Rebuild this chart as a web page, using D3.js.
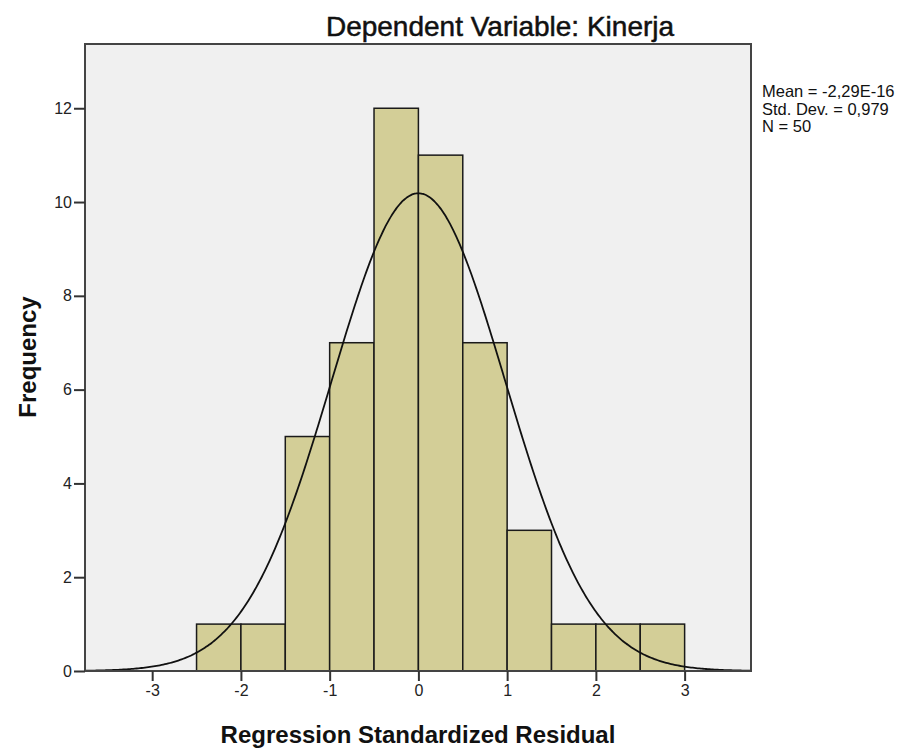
<!DOCTYPE html>
<html><head><meta charset="utf-8">
<script src="https://cdn.jsdelivr.net/npm/d3@7/dist/d3.min.js"></script>
<style>body{margin:0;background:#fff;} text{font-family:"Liberation Sans",Arial,sans-serif;}</style>
</head><body>
<svg id="c" width="907" height="749"></svg>
<script>
const binStarts = [-2.5,-2.0,-1.5,-1.0,-0.5,0.0,0.5,1.0,1.5,2.0,2.5];
const binWidth = 0.5;
const counts = [1,1,5,7,12,11,7,3,1,1,1];
const xTicks = [-3,-2,-1,0,1,2,3];
const yTicks = [0,2,4,6,8,10,12];
const stats = {mean:-2.29e-16, sd:0.979, n:50};
const legendLines = ["Mean = -2,29E-16","Std. Dev. = 0,979","N = 50"];
const titleText = "Dependent Variable: Kinerja";

const svg = d3.select("#c");
const L=85, R=751, T=44, B=671;
const x = d3.scaleLinear().domain([-3.757,3.748]).range([L,R]);
const y = d3.scaleLinear().domain([0,13.37]).range([B,T]);

svg.append("rect").attr("x",L).attr("y",T).attr("width",R-L).attr("height",B-T).attr("fill","#f0f0f0");

svg.append("g").selectAll("rect").data(counts).join("rect")
  .attr("x",(d,i)=>x(binStarts[i])).attr("width",(d,i)=>x(binStarts[i]+binWidth)-x(binStarts[i]))
  .attr("y",d=>y(d)).attr("height",d=>y(0)-y(d))
  .attr("fill","#d3ce97").attr("stroke","#1a1a1a").attr("stroke-width",1.5);

// normal curve from stats
const pdf = v => stats.n*binWidth/(stats.sd*Math.sqrt(2*Math.PI))*Math.exp(-0.5*((v-stats.mean)/stats.sd)**2);
const xs = d3.range(0,401).map(i=>-3.757+i*(3.748+3.757)/400);
svg.append("path").datum(xs).attr("fill","none").attr("stroke","#111").attr("stroke-width",1.8)
  .attr("d",d3.line().x(v=>x(v)).y(v=>y(pdf(v))).curve(d3.curveBasis));

// frame
svg.append("rect").attr("x",L).attr("y",T).attr("width",R-L).attr("height",B-T)
  .attr("fill","none").attr("stroke","#444").attr("stroke-width",2);

const yAxis = svg.append("g").attr("transform",`translate(${L},0)`)
  .call(d3.axisLeft(y).tickValues(yTicks).tickSize(11).tickFormat(d=>String(d)));
const xAxis = svg.append("g").attr("transform",`translate(0,${B})`)
  .call(d3.axisBottom(x).tickValues(xTicks).tickSize(10).tickFormat(d=>String(d)));
[yAxis,xAxis].forEach(g=>{
  g.select(".domain").remove();
  g.selectAll(".tick line").attr("stroke","#333").attr("stroke-width",2);
  g.selectAll(".tick text").attr("font-size",16).attr("fill","#222").attr("font-family","Liberation Sans, Arial, sans-serif");
});
yAxis.selectAll(".tick text").attr("x",-13);
xAxis.selectAll(".tick text").attr("y",14);

svg.append("text").attr("x",500).attr("y",36).attr("text-anchor","middle")
  .attr("font-size",28).attr("stroke","#111").attr("stroke-width",0.5).attr("fill","#111").text(titleText);
svg.append("text").attr("transform","translate(36,357) rotate(-90)").attr("text-anchor","middle")
  .attr("font-size",24).attr("font-weight","bold").attr("fill","#111").text("Frequency");
svg.append("text").attr("x",418).attr("y",743).attr("text-anchor","middle")
  .attr("font-size",24).attr("font-weight","bold").attr("fill","#111").text("Regression Standardized Residual");

svg.append("g").selectAll("text").data(legendLines).join("text")
  .attr("x",762).attr("y",(d,i)=>97+i*17.7).attr("font-size",16.5).attr("fill","#111").text(d=>d);
</script>
</body></html>
